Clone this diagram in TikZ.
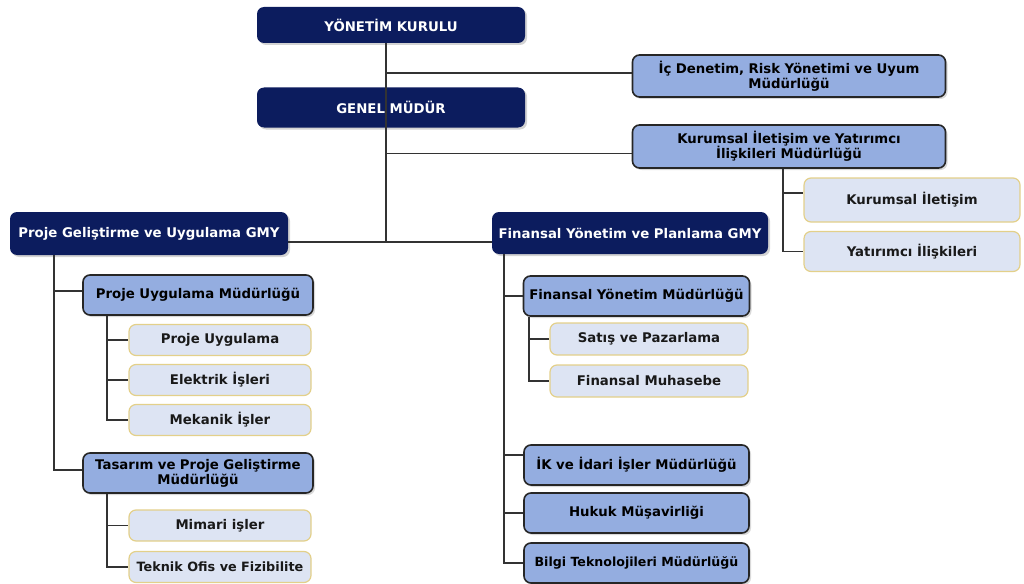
\documentclass[tikz,border=0pt]{standalone}
\usepackage{fontspec}
\setmainfont{DejaVu Sans}
\usetikzlibrary{shadows}

\definecolor{navy}{HTML}{0C1C5E}
\definecolor{midblue}{HTML}{94ADE0}
\definecolor{lightblue}{HTML}{DDE4F3}
\definecolor{goldline}{HTML}{E3D08A}

\begin{document}
\begin{tikzpicture}[
    x=1pt,y=-1pt,
    box/.style={rounded corners=7pt,inner sep=0pt,align=center,
        font={\fontsize{13.3}{15}\selectfont\bfseries}},
    topbox/.style={box,fill=navy,text=white,
        drop shadow={shadow xshift=2pt,shadow yshift=-2pt,opacity=0.35}},
    midbox/.style={box,fill=midblue,draw=black!85,line width=1.6pt,
        drop shadow={shadow xshift=2pt,shadow yshift=-2pt,opacity=0.3}},
    leafbox/.style={box,fill=lightblue,draw=goldline,line width=1.2pt,
        text=black!90},
    link/.style={draw=black!80,line width=1.1pt},
    ]

    \useasboundingbox (0,0) rectangle (1024,583);

    % bus lines
    \coordinate (hub) at (386,242);
    \coordinate (kbus) at (783,0);
    \coordinate (lbus) at (54,0);
    \coordinate (pbus) at (107,0);
    \coordinate (rbus) at (504,0);
    \coordinate (fbus) at (529,0);

    % top
    \node[topbox,minimum width=268,minimum height=36] (yk) at (391,25) {YÖNETİM KURULU};
    \node[topbox,minimum width=268,minimum height=40] (gm) at (391,107.5) {GENEL MÜDÜR};
    \node[midbox,minimum width=313,minimum height=42,text width=300] (icd) at (789,76)
        {İç Denetim, Risk Yönetimi ve Uyum\\Müdürlüğü};
    \node[midbox,minimum width=313,minimum height=43,text width=300] (kiy) at (789,146.5)
        {Kurumsal İletişim ve Yatırımcı\\İlişkileri Müdürlüğü};
    \node[leafbox,minimum width=216,minimum height=44] (kil) at (912,200) {Kurumsal İletişim};
    \node[leafbox,minimum width=216,minimum height=40] (yil) at (912,251.5) {Yatırımcı İlişkileri};

    % GMY
    \node[topbox,minimum width=278,minimum height=43] (pgmy) at (149,233.5) {Proje Geliştirme ve Uygulama GMY};
    \node[topbox,minimum width=276,minimum height=42] (fgmy) at (630,233) {Finansal Yönetim ve Planlama GMY};

    % left side
    \node[midbox,minimum width=230,minimum height=40] (pum) at (198,295) {Proje Uygulama Müdürlüğü};
    \node[leafbox,minimum width=182,minimum height=31] (pu) at (220,340) {Proje Uygulama};
    \node[leafbox,minimum width=182,minimum height=31] (ei) at (220,380) {Elektrik İşleri};
    \node[leafbox,minimum width=182,minimum height=31] (mi) at (220,420) {Mekanik İşler};
    \node[midbox,minimum width=230,minimum height=40,text width=226] (tpg) at (198,473)
        {Tasarım ve Proje Geliştirme\\Müdürlüğü};
    \node[leafbox,minimum width=182,minimum height=31] (mim) at (220,525.5) {Mimari işler};
    \node[leafbox,minimum width=182,minimum height=31,font={\fontsize{12.8}{15}\selectfont\bfseries}] (tof) at (220,567)
        {Teknik Ofis ve Fizibilite};

    % right side
    \node[midbox,minimum width=226,minimum height=40] (fym) at (636.5,296) {Finansal Yönetim Müdürlüğü};
    \node[leafbox,minimum width=198,minimum height=32] (sp) at (649,339) {Satış ve Pazarlama};
    \node[leafbox,minimum width=198,minimum height=32] (fm) at (649,381) {Finansal Muhasebe};
    \node[midbox,minimum width=225,minimum height=40] (ik) at (636.5,465) {İK ve İdari İşler Müdürlüğü};
    \node[midbox,minimum width=225,minimum height=40] (hm) at (636.5,513) {Hukuk Müşavirliği};
    \node[midbox,minimum width=225,minimum height=40,font={\fontsize{12.6}{15}\selectfont\bfseries}] (bt) at (636.5,563)
        {Bilgi Teknolojileri Müdürlüğü};

    % connectors
    \draw[link] (yk.south -| hub) -- (hub);
    \draw[link] ([yshift=3pt]icd.west) -- ([yshift=3pt]icd.west -| hub);
    \draw[link] ([yshift=-7pt]kiy.west) -- ([yshift=-7pt]kiy.west -| hub);
    \draw[link] ([yshift=-8.5pt]pgmy.east) -- ([yshift=-9pt]fgmy.west);
    \draw[link] (kiy.south -| kbus) |- (yil.west);
    \draw[link] ([yshift=7pt]kil.west -| kbus) -- ([yshift=7pt]kil.west);

    \draw[link] (pgmy.south -| lbus) |- ([yshift=3pt]tpg.west);
    \draw[link] ([yshift=4pt]pum.west -| lbus) -- ([yshift=4pt]pum.west);
    \draw[link] (pum.south -| pbus) |- (mi.west);
    \draw[link] (pu.west -| pbus) -- (pu.west);
    \draw[link] (ei.west -| pbus) -- (ei.west);
    \draw[link] (tpg.south -| pbus) |- (tof.west);
    \draw[link] (mim.west -| pbus) -- (mim.west);

    \draw[link] (fgmy.south -| rbus) |- (bt.west);
    \draw[link] (fym.west -| rbus) -- (fym.west);
    \draw[link] ([yshift=10pt]ik.west -| rbus) -- ([yshift=10pt]ik.west);
    \draw[link] (hm.west -| rbus) -- (hm.west);
    \draw[link] (fym.south -| fbus) |- (fm.west);
    \draw[link] (sp.west -| fbus) -- (sp.west);
\end{tikzpicture}
\end{document}
